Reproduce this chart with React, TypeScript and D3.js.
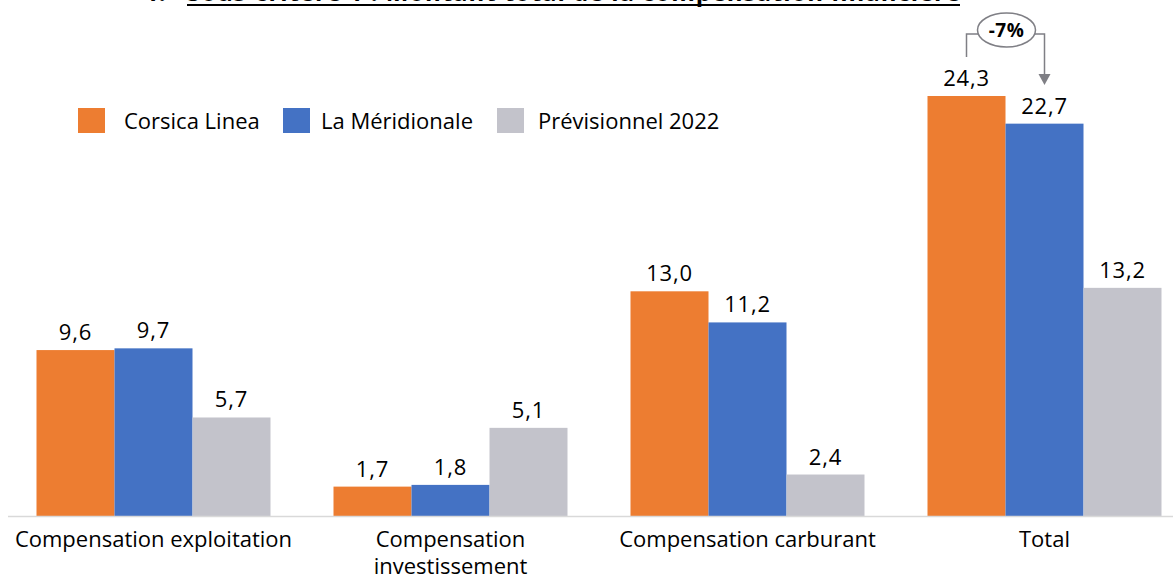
import React from "react";
import * as d3 from "d3";

const categories = ["Compensation exploitation", "Compensation investissement", "Compensation carburant", "Total"];
const categoryLines = [["Compensation exploitation"], ["Compensation", "investissement"], ["Compensation carburant"], ["Total"]];
const seriesNames = ["Corsica Linea", "La Méridionale", "Prévisionnel 2022"];
const seriesColors = ["#ED7D31", "#4472C4", "#C3C3CB"];
const corsica = [9.6, 1.7, 13.0, 24.3];
const meridionale = [9.7, 1.8, 11.2, 22.7];
const previsionnel = [5.7, 5.1, 2.4, 13.2];
const seriesValues = [corsica, meridionale, previsionnel];
const annotationText = "-7%";
const titleText = "Sous-critère 1 : Montant total de la compensation financière";

const W = 1173, H = 574;
const FONT = "'Open Sans', 'Noto Sans', sans-serif";

export default function App() {
  const baseY = 516;
  const x0 = d3.scaleBand<string>().domain(categories).range([5, 5 + 297 * 4]).paddingInner(0).paddingOuter(0);
  const x1 = d3.scaleBand<string>().domain(seriesNames).range([0, 234]);
  const groupOffset = (297 - 234) / 2;
  const y = d3.scaleLinear().domain([0, 24.3]).range([baseY, 96]);
  const fmt = (v: number) => v.toFixed(1).replace(".", ",");

  const bx = (ci: number, si: number) => (x0(categories[ci]) as number) + groupOffset + (x1(seriesNames[si]) as number);
  const totalIdx = 3;
  const lx = bx(totalIdx, 0) + x1.bandwidth() / 2;
  const rx = bx(totalIdx, 1) + x1.bandwidth() / 2;
  const ex = (lx + rx) / 2 + 1;
  const ey = 30;
  const ly = 34;

  return (
    <svg width={W} height={H} style={{ position: "absolute", left: 0, top: 0, display: "block", background: "#fff" }} fontFamily={FONT}>
      <text x={145} y={1} fontSize={24} fontWeight="bold" fill="#000">1.</text>
      <text x={187} y={1} fontSize={24} fontWeight="bold" fill="#000" textLength={773}>{titleText}</text>
      <line x1={187} x2={960} y1={5} y2={5} stroke="#000" strokeWidth={2} />

      {seriesValues.map((vals, si) =>
        vals.map((v, ci) => {
          const x = bx(ci, si);
          return (
            <g key={`${si}-${ci}`}>
              <rect x={x} y={y(v)} width={x1.bandwidth()} height={baseY - y(v)} fill={seriesColors[si]} />
              <text x={x + x1.bandwidth() / 2} y={y(v) - 10} textAnchor="middle" fontSize={22} letterSpacing={0.8} fill="#000">{fmt(v)}</text>
            </g>
          );
        })
      )}
      <line x1={8} x2={W} y1={baseY + 0.5} y2={baseY + 0.5} stroke="#d9d9d9" strokeWidth={1.5} />

      {categoryLines.map((lines, ci) => {
        const cx = (x0(categories[ci]) as number) + 297 / 2;
        return (
          <text key={ci} x={cx} textAnchor="middle" fontSize={22} fill="#000">
            {lines.map((l, li) => (
              <tspan key={li} x={cx} y={547 + li * 27}>{l}</tspan>
            ))}
          </text>
        );
      })}

      {/* legend */}
      {seriesNames.map((n, i) => {
        const xs = [78, 283, 497][i];
        return (
          <g key={n}>
            <rect x={xs} y={108} width={27} height={25} fill={seriesColors[i]} />
            <text x={xs + [46, 38, 41][i]} y={129} fontSize={22} fill="#000">{n}</text>
          </g>
        );
      })}

      {/* annotation */}
      <path d={`M${lx},57 V${ly} H${ex - 28}`} fill="none" stroke="#7f7f85" strokeWidth={1.5} />
      <path d={`M${ex + 28},${ly} H${rx} V76`} fill="none" stroke="#7f7f85" strokeWidth={1.5} />
      <path d={`M${rx - 6},74 L${rx + 6},74 L${rx},85 Z`} fill="#7f7f85" />
      <ellipse cx={ex} cy={ey} rx={29} ry={17} fill="#fff" stroke="#7f7f85" strokeWidth={1.5} />
      <text x={ex} y={ey + 7} textAnchor="middle" fontSize={19} fontWeight="bold" letterSpacing={0.5} fill="#000">{annotationText}</text>
    </svg>
  );
}
